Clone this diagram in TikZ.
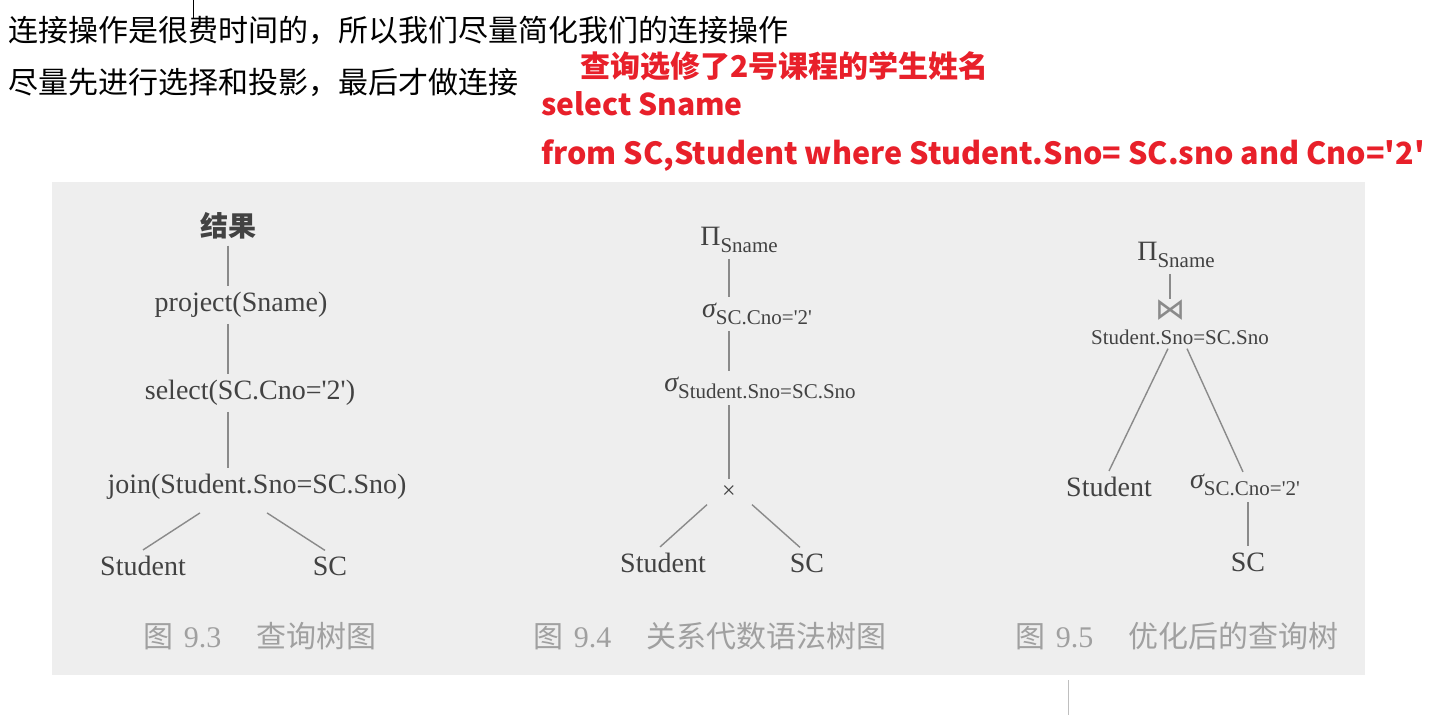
\documentclass[tikz,border=0pt]{standalone}
\usepackage{fontspec}
\setmainfont{Liberation Serif}
\newfontfamily\cjk{Noto Sans CJK SC}
\newfontfamily\serif{Liberation Serif}
\newfontfamily\dejavu{DejaVu Sans}
\usetikzlibrary{calc}
\definecolor{scanbg}{HTML}{EEEEEE}
\definecolor{ink}{HTML}{424242}
\definecolor{edgegray}{HTML}{8A8A8A}
\definecolor{capgray}{HTML}{A0A0A0}
\definecolor{redtxt}{HTML}{E8202A}
\newcommand{\lowsub}[1]{\raisebox{-7pt}{\fontsize{21}{24}\selectfont #1}}
\newcommand{\sig}{{\itshape σ}}
\newcommand{\capt}[2]{{\cjk 图}\hspace{10pt}{\serif #1}\hspace{35pt}{\cjk #2}}
\begin{document}
\begin{tikzpicture}[x=1pt,y=-1pt,
  toptext/.style={anchor=base west, inner sep=0pt, font=\cjk\fontsize{30}{34}\selectfont},
  redtext/.style={anchor=base west, inner sep=0pt, text=redtxt, font=\cjk\bfseries\fontsize{30}{34}\selectfont},
  lbl/.style={inner sep=6pt, text=ink, font=\serif\fontsize{28}{32}\selectfont},
  cjklbl/.style={inner sep=6pt, text=ink, font=\cjk\bfseries\fontsize{28}{32}\selectfont},
  smalllbl/.style={inner sep=3pt, text=ink, font=\serif\fontsize{21}{24}\selectfont},
  captionlbl/.style={inner sep=0pt, text=capgray, font=\fontsize{30}{34}\selectfont},
  edgeline/.style={draw=edgegray, line width=1.4pt}]
\useasboundingbox (0,0) rectangle (1433,715);
\fill[white] (0,0) rectangle (1433,715);
\fill[scanbg] (52,182) rectangle (1365,675);
\draw[black, line width=1pt] (193,0) -- (193,18);
\draw[black!25, line width=1pt] (1068,680) -- (1068,715);

% top texts
\node[toptext] (t1) at (8,41) {连接操作是很费时间的，所以我们尽量简化我们的连接操作};
\node[toptext] (t2) at (8,93) {尽量先进行选择和投影，最后才做连接};
\node[redtext] (r1) at (580,77) {查询选修了2号课程的学生姓名};
\node[redtext] (r2) at (541,115) {select Sname};
\node[redtext, font=\cjk\bfseries\fontsize{30.5}{34}\selectfont] (r3) at (541,164) {from SC,Student where Student.Sno= SC.sno and Cno='2'};

% tree 1
\node[cjklbl] (res) at (228,226) {结果};
\node[lbl] (proj) at (241,305) {project(Sname)};
\node[lbl] (sel) at (250,393) {select(SC.Cno='2')};
\node[lbl] (join) at (257,487) {join(Student.Sno=SC.Sno)};
\node[lbl] (stu1) at (143,566) {Student};
\node[lbl] (sc1) at (330,566) {SC};
\node[captionlbl] (cap1) at (260,636) {\capt{9.3}{查询树图}};
\draw[edgeline] (res.south) -- (res.south |- proj.north);
\draw[edgeline] (proj.south -| res) -- (sel.north -| res);
\draw[edgeline] (sel.south -| res) -- (join.north -| res);
\draw[edgeline] ($(join.south)+(-57,7)$) -- (stu1.north);
\draw[edgeline] ($(join.south)+(10,7)$) -- ($(sc1.north)+(-5,0)$);

% tree 2
\node[lbl] (pi2) at (739,240) {Π\lowsub{Sname}};
\node[lbl] (sig1) at (757,314) {\sig\lowsub{SC.Cno='2'}};
\node[lbl] (sig2) at (760,388) {\sig\lowsub{Student.Sno=SC.Sno}};
\node[lbl, font=\serif\fontsize{24}{28}\selectfont] (times) at (729,492) {×};
\node[lbl] (stu2) at (663,563) {Student};
\node[lbl] (sc2) at (807,563) {SC};
\node[captionlbl] (cap2) at (710,636) {\capt{9.4}{关系代数语法树图}};
\draw[edgeline] (pi2.south -| times) -- (sig1.north -| times);
\draw[edgeline] (sig1.south -| times) -- (sig2.north -| times);
\draw[edgeline] (sig2.south -| times) -- (times.north);
\draw[edgeline] ($(times.south)+(-22,0)$) -- ($(stu2.north)+(-3,0)$);
\draw[edgeline] ($(times.south)+(23,0)$) -- ($(sc2.north)+(-7,0)$);

% tree 3
\node[lbl] (pi3) at (1176,255) {Π\lowsub{Sname}};
\node[inner sep=0pt, text=edgegray, font=\dejavu\fontsize{30}{32}\selectfont] (bow) at (1170,310) {⋈};
\node[smalllbl] (jn3) at (1180,337) {Student.Sno=SC.Sno};
\node[lbl] (stu3) at (1109,487) {Student};
\node[lbl] (sig3) at (1245,485) {\sig\lowsub{SC.Cno='2'}};
\node[lbl] (sc3) at (1248,562) {SC};
\node[captionlbl] (cap3) at (1177,636) {\capt{9.5}{优化后的查询树}};
\draw[edgeline] (pi3.south -| bow) -- (bow.north);
\draw[edgeline] ($(jn3.south)+(-12,1)$) -- (stu3.north);
\draw[edgeline] ($(jn3.south)+(7,1)$) -- ($(sig3.north)+(-2,4)$);
\draw[edgeline] (sig3.south -| sc3) -- (sc3.north);
\end{tikzpicture}
\end{document}
